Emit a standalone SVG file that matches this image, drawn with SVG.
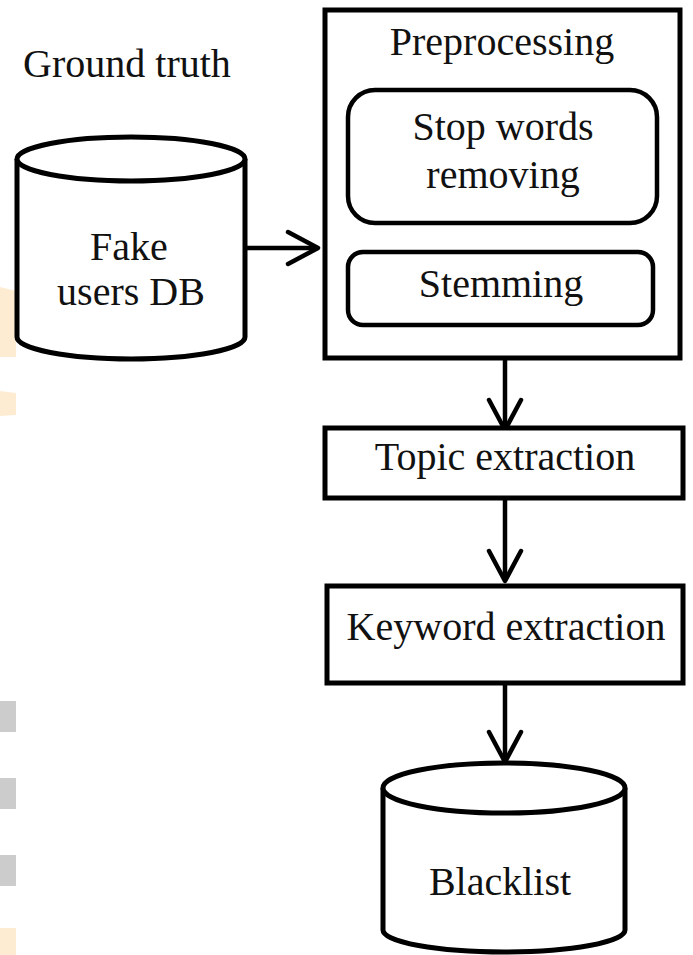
<svg xmlns="http://www.w3.org/2000/svg" width="693" height="955" viewBox="0 0 693 955">
  <style>
    .t { font-family: "Liberation Serif", "Times New Roman", serif; font-size: 40px; fill: #111; text-anchor: middle; }
    .box { fill: #fff; stroke: #000; stroke-width: 5; }
    .inner { fill: #fff; stroke: #000; stroke-width: 4.5; }
    .cyl { fill: #fff; stroke: #000; stroke-width: 5; }
    .edge { fill: none; stroke: #000; stroke-width: 4.5; }
    .bgo { fill: #fdecd2; }
    .bgg { fill: #cccccc; }
  </style>
  <defs>
    <marker id="chev" markerUnits="userSpaceOnUse" markerWidth="40" markerHeight="40" viewBox="-34 -20 40 40" refX="0" refY="0" orient="auto" overflow="visible">
      <path d="M-30,-16 L0,0 L-30,16" fill="none" stroke="#000" stroke-width="4.5" stroke-linecap="round" stroke-linejoin="round"/>
    </marker>
  </defs>
  <rect width="693" height="955" fill="#fff"/>
  <g id="background-marks">
    <polygon class="bgo" points="0,287 16,291 16,357 0,357"/>
    <polygon class="bgo" points="0,391 16,393 16,415 0,416"/>
    <rect class="bgg" x="0" y="701" width="16" height="31"/>
    <rect class="bgg" x="0" y="778" width="16" height="31"/>
    <rect class="bgg" x="0" y="855" width="16" height="31"/>
    <rect class="bgo" x="0" y="928" width="16" height="27"/>
  </g>
  <g id="ground-truth-label">
    <text class="t" x="127" y="77">Ground truth</text>
  </g>
  <g id="connectors">
    <line class="edge" x1="245" y1="248" x2="318" y2="248" marker-end="url(#chev)"/>
    <line class="edge" x1="505" y1="358" x2="505" y2="430" marker-end="url(#chev)"/>
    <line class="edge" x1="505" y1="498" x2="505" y2="581" marker-end="url(#chev)"/>
    <line class="edge" x1="505" y1="683" x2="505" y2="762" marker-end="url(#chev)"/>
  </g>
  <g id="fake-users-db">
    <path class="cyl" d="M17,159 L17,337 A114,22 0 0 0 245,337 L245,159"/>
    <ellipse class="cyl" cx="131" cy="159" rx="114" ry="22"/>
    <text class="t" x="129" y="260">Fake</text>
    <text class="t" x="131" y="305">users DB</text>
  </g>
  <g id="preprocessing">
    <rect class="box" x="325" y="10" width="355" height="348"/>
    <text class="t" x="502" y="55">Preprocessing</text>
  </g>
  <g id="stop-words-removing">
    <rect class="inner" x="348" y="90" width="309" height="133" rx="27" ry="27"/>
    <text class="t" x="503" y="140">Stop words</text>
    <text class="t" x="503" y="188">removing</text>
  </g>
  <g id="stemming">
    <rect class="inner" x="348" y="252" width="305" height="73" rx="15" ry="15"/>
    <text class="t" x="501" y="297">Stemming</text>
  </g>
  <g id="topic-extraction">
    <rect class="box" x="325" y="428" width="358" height="70"/>
    <text class="t" x="505" y="470">Topic extraction</text>
  </g>
  <g id="keyword-extraction">
    <rect class="box" x="327" y="586" width="356" height="97"/>
    <text class="t" x="506" y="640">Keyword extraction</text>
  </g>
  <g id="blacklist">
    <path class="cyl" d="M383,788 L383,930 A121,22 0 0 0 625,930 L625,788"/>
    <ellipse class="cyl" cx="504" cy="788" rx="121" ry="25"/>
    <text class="t" x="500" y="895">Blacklist</text>
  </g>
</svg>
